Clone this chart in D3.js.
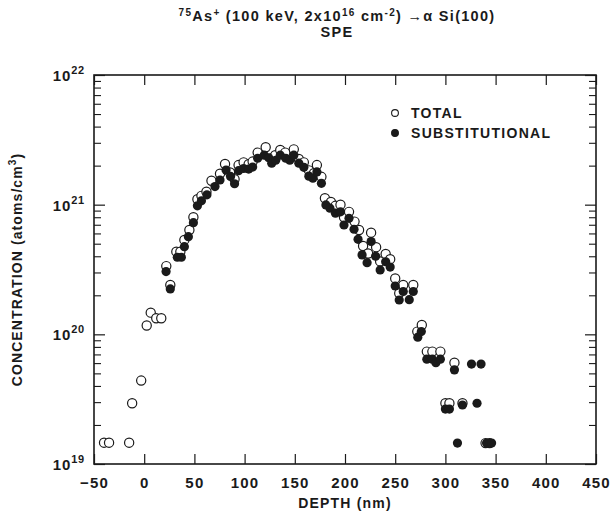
<!DOCTYPE html>
<html>
<head>
<meta charset="utf-8">
<script src="https://cdn.jsdelivr.net/npm/d3@7"></script>
<style>
  body { margin: 0; background: #fff; }
  text { font-family: "Liberation Sans", Arial, sans-serif; fill: #1a1a1a; }
</style>
</head>
<body>
<div id="chart"></div>
<script>
// TOTAL (open circles): depth in nm, concentration in atoms/cm3
const totalDepth = [-40, -35, -15, -12, -3, 2.5, 6.5, 12, 17, 22, 26, 32, 36, 40, 45, 49, 53, 57, 62, 67,
  75.5, 80.5, 85.5, 90, 94, 99, 104, 108, 113, 121, 127, 130.5, 135.5, 140.5, 149, 154, 159, 164, 169, 172,
  176.5, 180, 186, 190.5, 195.5, 199, 204, 209.5, 214, 218, 223, 226, 231, 235, 240.5, 245, 250, 254, 258, 268,
  272, 276.5, 281.5, 287, 295, 300, 304, 309, 317, 340, 344];
const totalConc = [1.46e19, 1.46e19, 1.46e19, 2.94e19, 4.4e19, 1.17e20, 1.47e20, 1.33e20, 1.33e20, 3.36e20,
  2.4e20, 4.34e20, 4.34e20, 5.35e20, 6.38e20, 8.0e20, 1.10e21, 1.17e21, 1.26e21, 1.53e21,
  1.73e21, 2.06e21, 1.77e21, 1.57e21, 2.02e21, 2.12e21, 2.05e21, 2.15e21, 2.52e21, 2.77e21, 2.28e21, 2.41e21,
  2.64e21, 2.52e21, 2.67e21, 2.25e21, 2.12e21, 1.84e21, 1.75e21, 2.02e21,
  1.64e21, 1.12e21, 1.05e21, 9.8e20, 1.0e21, 8.0e20, 8.8e20, 7.4e20, 6.38e20, 4.8e20, 4.2e20, 6.08e20, 4.7e20,
  3.65e20, 4.17e20, 3.8e20, 2.7e20, 2.07e20, 2.4e20, 2.4e20,
  1.05e20, 1.18e20, 7.36e19, 7.36e19, 7.36e19, 2.94e19, 2.94e19, 6.05e19, 2.94e19, 1.45e19, 1.45e19];

// SUBSTITUTIONAL (filled circles)
const substDepth = [21.8, 26, 33, 37, 40, 44, 49, 53, 57, 62.5, 70.5, 75.5, 81.5, 86, 90, 94, 99, 104, 108, 113,
  119.5, 124, 127, 131, 135.5, 141, 145, 149, 154, 159, 164, 168, 172, 176.5, 181, 185, 190.5, 195.5, 199, 204,
  209, 213, 217, 222, 226, 230.5, 235, 240.5, 245, 250, 254, 258, 264, 268, 272.5, 276, 281.5, 287, 290.5, 295,
  300, 304, 309, 312, 317, 326, 331.5, 335.5, 341, 344, 346];
const substConc = [3.05e20, 2.24e20, 3.93e20, 3.93e20, 4.74e20, 5.66e20, 7.26e20, 9.8e20, 1.07e21, 1.19e21,
  1.38e21, 1.55e21, 1.85e21, 1.65e21, 1.45e21, 1.83e21, 1.9e21, 1.88e21, 1.95e21, 2.28e21,
  2.41e21, 2.3e21, 2.09e21, 2.2e21, 2.41e21, 2.28e21, 2.2e21, 2.41e21, 2.09e21, 1.94e21, 1.66e21, 1.6e21, 1.79e21,
  1.46e21, 9.96e20, 9.4e20, 8.6e20, 8.8e20, 6.97e20, 7.85e20,
  6.46e20, 5.4e20, 4.1e20, 3.57e20, 5.2e20, 4.0e20, 3.14e20, 3.63e20, 3.3e20, 2.36e20, 1.84e20, 2.14e20, 1.85e20,
  2.14e20, 9.5e19, 1.05e20, 6.43e19, 6.43e19, 6.05e19, 6.43e19,
  2.65e19, 2.65e19, 5.32e19, 1.45e19, 2.85e19, 5.9e19, 2.94e19, 5.9e19, 1.45e19, 1.45e19, 1.45e19];

const xTickValues = [-50, 0, 50, 100, 150, 200, 250, 300, 350, 400, 450];
const yDecades = [19, 20, 21, 22];
const legendLabels = ["TOTAL", "SUBSTITUTIONAL"];

const W = 612, H = 514;
const m = {left: 94, right: 596, top: 75, bottom: 464};
const ink = "#1a1a1a";

const svg = d3.select("#chart").append("svg")
  .attr("width", W).attr("height", H);

const x = d3.scaleLinear().domain([-50, 450]).range([m.left, m.right]);
const y = d3.scaleLog().domain([1e19, 1e22]).range([m.bottom, m.top]);

// frame
svg.append("rect")
  .attr("x", m.left).attr("y", m.top)
  .attr("width", m.right - m.left).attr("height", m.bottom - m.top)
  .attr("fill", "none").attr("stroke", ink).attr("stroke-width", 1.6);

// x axis, ticks pointing inward
const xAxis = svg.append("g")
  .attr("transform", `translate(0,${m.bottom})`)
  .call(d3.axisBottom(x).tickValues(xTickValues).tickSizeInner(-10).tickSizeOuter(0).tickPadding(13));
xAxis.select(".domain").remove();
xAxis.selectAll("line").attr("stroke", ink).attr("stroke-width", 1.2);
xAxis.selectAll("text").attr("font-size", 15).attr("font-weight", "bold").attr("letter-spacing", 1.2).attr("fill", ink);

const xTop = svg.append("g")
  .attr("transform", `translate(0,${m.top})`)
  .call(d3.axisTop(x).tickValues(xTickValues).tickSizeInner(-10).tickSizeOuter(0).tickFormat(""));
xTop.select(".domain").remove();
xTop.selectAll("line").attr("stroke", ink).attr("stroke-width", 1.2);

// y axis minor + major ticks, both sides
const minorTicks = [];
yDecades.slice(0, -1).forEach(d => {
  for (let k = 2; k <= 9; k++) minorTicks.push(k * Math.pow(10, d));
});
const majorTicks = yDecades.map(d => Math.pow(10, d));

[[d3.axisLeft, m.left], [d3.axisRight, m.right]].forEach(([ax, pos]) => {
  const gMin = svg.append("g").attr("transform", `translate(${pos},0)`)
    .call(ax(y).tickValues(minorTicks).tickSizeInner(-7).tickSizeOuter(0).tickFormat(""));
  gMin.select(".domain").remove();
  gMin.selectAll("line").attr("stroke", ink).attr("stroke-width", 1.1);
  const gMaj = svg.append("g").attr("transform", `translate(${pos},0)`)
    .call(ax(y).tickValues(majorTicks).tickSizeInner(-11).tickSizeOuter(0).tickFormat(""));
  gMaj.select(".domain").remove();
  gMaj.selectAll("line").attr("stroke", ink).attr("stroke-width", 1.2);
});

// y tick labels as 10 with superscript exponent
yDecades.forEach(d => {
  const t = svg.append("text")
    .attr("x", m.left - 9).attr("y", y(Math.pow(10, d)) + 6)
    .attr("text-anchor", "end")
    .attr("font-size", 15).attr("font-weight", "bold").attr("letter-spacing", 0.8).attr("fill", ink);
  t.append("tspan").text("10");
  t.append("tspan").attr("dy", -7).attr("font-size", 11).text(String(d));
});

// axis titles
svg.append("text")
  .attr("x", (m.left + m.right) / 2).attr("y", 508)
  .attr("text-anchor", "middle")
  .attr("font-size", 14).attr("font-weight", "bold").attr("letter-spacing", 1.2)
  .text("DEPTH (nm)");

const yt = svg.append("text")
  .attr("transform", `translate(22,${(m.top + m.bottom) / 2}) rotate(-90)`)
  .attr("text-anchor", "middle")
  .attr("font-size", 14).attr("font-weight", "bold").attr("letter-spacing", 1.1);
yt.append("tspan").text("CONCENTRATION (atoms/cm");
yt.append("tspan").attr("dy", -6).attr("font-size", 10).text("3");
yt.append("tspan").attr("dy", 6).text(")");

// title
const t1 = svg.append("text")
  .attr("x", 337).attr("y", 21)
  .attr("text-anchor", "middle")
  .attr("font-size", 14.5).attr("font-weight", "bold").attr("letter-spacing", 1.3);
t1.append("tspan").attr("dy", -5).attr("font-size", 10).text("75");
t1.append("tspan").attr("dy", 5).text("As");
t1.append("tspan").attr("dy", -5).attr("font-size", 10).text("+");
t1.append("tspan").attr("dy", 5).text(" (100 keV, 2x10");
t1.append("tspan").attr("dy", -5).attr("font-size", 10).text("16");
t1.append("tspan").attr("dy", 5).text(" cm");
t1.append("tspan").attr("dy", -5).attr("font-size", 10).text("-2");
t1.append("tspan").attr("dy", 5).text(") \u2192\u03b1 Si(100)");
svg.append("text")
  .attr("x", 337).attr("y", 37)
  .attr("text-anchor", "middle")
  .attr("font-size", 14.5).attr("font-weight", "bold").attr("letter-spacing", 1.3)
  .text("SPE");

// data
const totalPts = totalDepth.map((d, i) => [d, totalConc[i]]);
const substPts = substDepth.map((d, i) => [d, substConc[i]]);
const r = 4.6;

svg.append("g").selectAll("circle").data(totalPts).join("circle")
  .attr("cx", d => x(d[0])).attr("cy", d => y(d[1])).attr("r", r)
  .attr("fill", "#fff").attr("stroke", ink).attr("stroke-width", 1.2);

svg.append("g").selectAll("circle").data(substPts).join("circle")
  .attr("cx", d => x(d[0])).attr("cy", d => y(d[1])).attr("r", r)
  .attr("fill", ink).attr("stroke", "none");

// legend
const legend = svg.append("g");
legendLabels.forEach((lab, i) => {
  const ly = 113 + i * 20;
  legend.append("circle")
    .attr("cx", 395).attr("cy", ly).attr("r", 3.4)
    .attr("fill", i === 0 ? "#fff" : ink)
    .attr("stroke", ink).attr("stroke-width", 1.1);
  legend.append("text")
    .attr("x", 411).attr("y", ly + 5)
    .attr("font-size", 14).attr("font-weight", "bold").attr("letter-spacing", 1.3)
    .text(lab);
});
</script>
</body>
</html>
